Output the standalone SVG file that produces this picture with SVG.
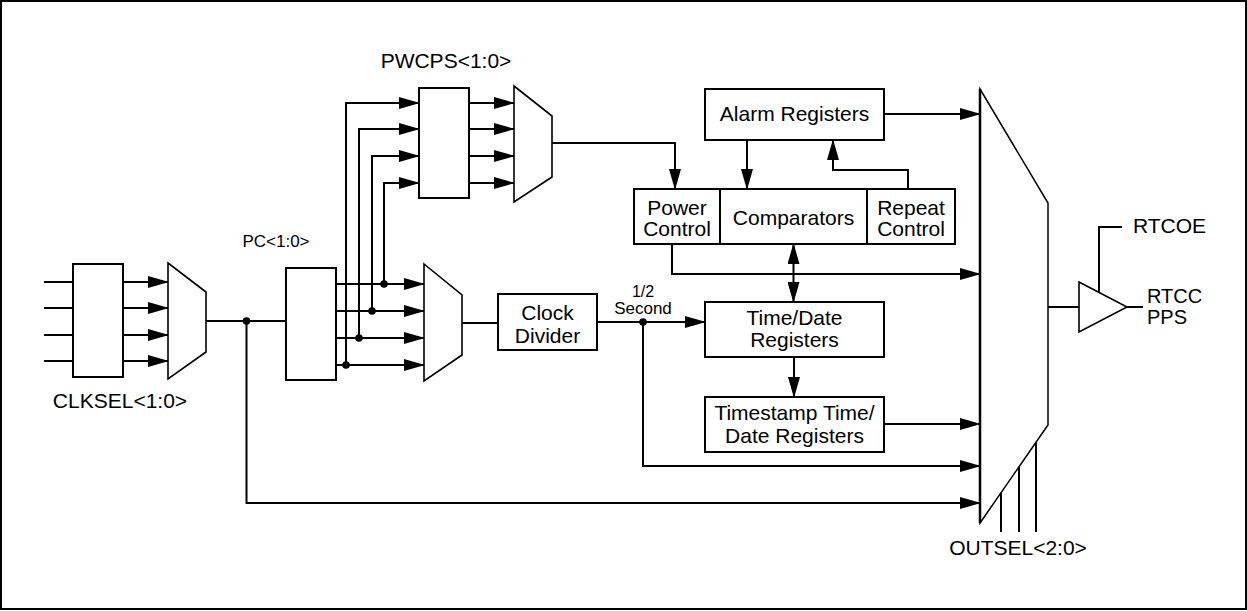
<svg xmlns="http://www.w3.org/2000/svg" width="1247" height="611" viewBox="0 0 1247 611">
<style>
  .box{fill:#fff;stroke:#000;stroke-width:2}
  .mux{fill:#fff;stroke:#000;stroke-width:1.6}
  .w{fill:none;stroke:#000;stroke-width:2}
  .a{fill:none;stroke:#000;stroke-width:2;marker-end:url(#ah)}
  .ab{fill:none;stroke:#000;stroke-width:2;marker-end:url(#ah);marker-start:url(#ah)}
  .dot{fill:#000}
  text{font-family:"Liberation Sans",Arial,sans-serif;font-size:21px;fill:#000}
  .c{text-anchor:middle}
  .s{font-size:17px}
</style>
<defs>
  <marker id="ah" markerUnits="userSpaceOnUse" markerWidth="21" markerHeight="12" viewBox="0 0 21 12" refX="20" refY="6" orient="auto-start-reverse">
    <path d="M0,0 L21,6 L0,12 z" fill="#000"/>
  </marker>
</defs>
<rect x="1" y="1" width="1245" height="608" fill="#fff" stroke="#000" stroke-width="2"/>

<g id="connectors">
  <path class="w" d="M44,282 H73 M44,308 H73 M44,335 H73 M44,361 H73"/>
  <path class="a" d="M123,282 H168"/>
  <path class="a" d="M123,308 H168"/>
  <path class="a" d="M123,335 H168"/>
  <path class="a" d="M123,361 H168"/>
  <path class="w" d="M206,321 H286"/>
  <path class="a" d="M246.5,321 V503 H980"/>
  <path class="a" d="M336,284 H424"/>
  <path class="a" d="M336,311 H424"/>
  <path class="a" d="M336,338 H424"/>
  <path class="a" d="M336,365 H424"/>
  <path class="a" d="M346,365 V103 H419"/>
  <path class="a" d="M359,338 V129 H419"/>
  <path class="a" d="M372,311 V156 H419"/>
  <path class="a" d="M384,284 V183 H419"/>
  <path class="a" d="M469,103 H514"/>
  <path class="a" d="M469,129 H514"/>
  <path class="a" d="M469,156 H514"/>
  <path class="a" d="M469,183 H514"/>
  <path class="a" d="M552,143 H675 V189"/>
  <path class="w" d="M462,323 H498"/>
  <path class="a" d="M597,322 H705"/>
  <path class="a" d="M643,322 V466 H980"/>
  <path class="a" d="M884,114 H980"/>
  <path class="a" d="M747,140 V189"/>
  <path class="a" d="M908,189 V170 H833 V140"/>
  <path class="a" d="M672,244 V274 H980"/>
  <path class="ab" d="M793.5,244 V302"/>
  <path class="a" d="M794,357 V397"/>
  <path class="a" d="M884,424 H980"/>
  <path class="w" d="M1048,307 H1079"/>
  <path class="w" d="M1127,307 H1143"/>
  <path class="w" d="M1099,292 V227 H1122"/>
  <path class="w" d="M1001,493 V532 M1019,467 V532 M1036,442 V532"/>
  <circle class="dot" cx="246.5" cy="321" r="3.8"/>
  <circle class="dot" cx="384" cy="284" r="3.8"/>
  <circle class="dot" cx="372" cy="311" r="3.8"/>
  <circle class="dot" cx="359" cy="338" r="3.8"/>
  <circle class="dot" cx="346" cy="365" r="3.8"/>
  <circle class="dot" cx="643" cy="322" r="3.8"/>
</g>

<g id="clksel">
  <rect class="box" x="73" y="264" width="50" height="113"/>
  <text class="c" x="120" y="408">CLKSEL&lt;1:0&gt;</text>
</g>
<g id="mux1">
  <polygon class="mux" points="168,263 206,292 206,352 168,379"/>
</g>
<g id="pc">
  <rect class="box" x="286" y="268" width="50" height="112"/>
  <text class="c" x="276" y="247" style="font-size:17px">PC&lt;1:0&gt;</text>
</g>
<g id="mux2">
  <polygon class="mux" points="424,264 462,295 462,355 424,381"/>
</g>
<g id="pwcps">
  <rect class="box" x="419" y="88" width="50" height="110"/>
  <text class="c" x="446" y="68">PWCPS&lt;1:0&gt;</text>
</g>
<g id="mux3">
  <polygon class="mux" points="514,86 552,116 552,177 514,202"/>
</g>
<g id="clockdivider">
  <rect class="box" x="498" y="294" width="99" height="56"/>
  <text class="c" x="547.5" y="320">Clock</text>
  <text class="c" x="547.5" y="343">Divider</text>
</g>
<g id="halfsecond">
  <text class="c s" x="643" y="297" style="font-size:16px">1/2</text>
  <text class="c s" x="643" y="314">Second</text>
</g>
<g id="alarm">
  <rect class="box" x="705" y="89" width="179" height="51"/>
  <text class="c" x="794.5" y="121">Alarm Registers</text>
</g>
<g id="controlrow">
  <rect class="box" x="634" y="189" width="321" height="55"/>
  <path class="w" d="M720,189 V244 M867,189 V244"/>
  <text class="c" x="677" y="215">Power</text>
  <text class="c" x="677" y="236">Control</text>
  <text class="c" x="793.5" y="225">Comparators</text>
  <text class="c" x="911" y="215">Repeat</text>
  <text class="c" x="911" y="236">Control</text>
</g>
<g id="timedate">
  <rect class="box" x="705" y="302" width="179" height="55"/>
  <text class="c" x="794.5" y="325">Time/Date</text>
  <text class="c" x="794.5" y="347">Registers</text>
</g>
<g id="timestamp">
  <rect class="box" x="705" y="397" width="179" height="55"/>
  <text class="c" x="794.5" y="420">Timestamp Time/</text>
  <text class="c" x="794.5" y="443">Date Registers</text>
</g>
<g id="outmux">
  <polygon fill="#fff" stroke="#000" stroke-width="1.5" points="980,89 1048,203 1048,425 980,523"/>
  <path d="M980,89 V523" stroke="#000" stroke-width="2.5"/>
  <text class="c" x="1018" y="555">OUTSEL&lt;2:0&gt;</text>
</g>
<g id="buffer">
  <polygon fill="#fff" stroke="#000" stroke-width="1.6" points="1079,282 1127,307 1079,332"/>
  <text x="1133" y="233">RTCOE</text>
  <text x="1147" y="303" style="font-size:20px">RTCC</text>
  <text x="1147" y="324" style="font-size:20px">PPS</text>
</g>
</svg>
